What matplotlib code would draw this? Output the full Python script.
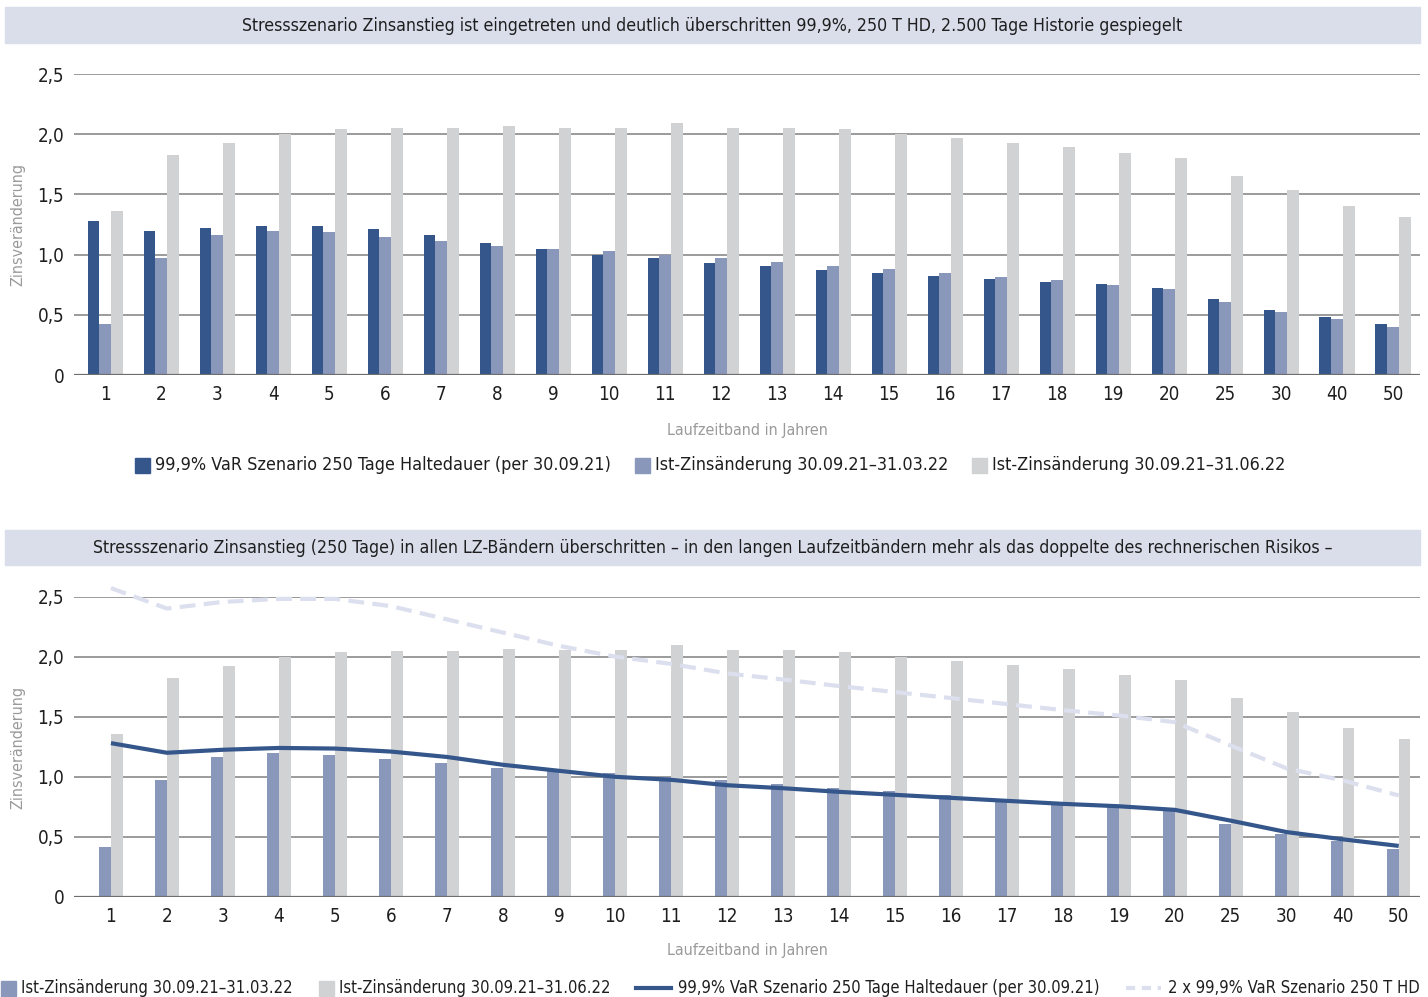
import matplotlib
matplotlib.use("Agg")
import matplotlib.pyplot as plt
import numpy as np
from matplotlib.patches import Rectangle
from matplotlib.lines import Line2D
from matplotlib.offsetbox import HPacker, DrawingArea, TextArea, AnchoredOffsetbox

plt.rcParams["font.family"] = ["DejaVu Sans"]
plt.rcParams["font.stretch"] = "condensed"

# data
bands = ["1", "2", "3", "4", "5", "6", "7", "8", "9", "10", "11", "12",
         "13", "14", "15", "16", "17", "18", "19", "20", "25", "30", "40", "50"]
var_999 = [1.28, 1.20, 1.225, 1.24, 1.235, 1.21, 1.165, 1.10, 1.05, 1.00, 0.975, 0.93,
           0.905, 0.875, 0.85, 0.825, 0.80, 0.775, 0.755, 0.725, 0.635, 0.54, 0.48, 0.425]
ist_0322 = [0.42, 0.97, 1.165, 1.20, 1.185, 1.15, 1.115, 1.075, 1.05, 1.03, 1.00, 0.975,
            0.94, 0.905, 0.88, 0.85, 0.815, 0.79, 0.75, 0.715, 0.605, 0.525, 0.465, 0.40]
ist_0622 = [1.36, 1.825, 1.925, 2.00, 2.04, 2.05, 2.05, 2.065, 2.055, 2.055, 2.095, 2.055,
            2.055, 2.04, 2.00, 1.965, 1.93, 1.895, 1.845, 1.805, 1.655, 1.54, 1.405, 1.315]
var_2x = [2.57, 2.40, 2.455, 2.48, 2.48, 2.42, 2.31, 2.20, 2.09, 2.00, 1.94, 1.86,
          1.81, 1.755, 1.705, 1.655, 1.605, 1.555, 1.51, 1.455, 1.26, 1.07, 0.97, 0.845]
yticks = [0, 0.5, 1.0, 1.5, 2.0, 2.5]
ytick_labels = ["0", "0,5", "1,0", "1,5", "2,0", "2,5"]

title_top = ("Stressszenario Zinsanstieg ist eingetreten und deutlich überschritten "
             "99,9%, 250 T HD, 2.500 Tage Historie gespiegelt")
title_bottom = ("Stressszenario Zinsanstieg (250 Tage) in allen LZ-Bändern überschritten – "
                "in den langen Laufzeitbändern mehr als das doppelte des rechnerischen Risikos –")
lbl_var = "99,9% VaR Szenario 250 Tage Haltedauer (per 30.09.21)"
lbl_0322 = "Ist-Zinsänderung 30.09.21–31.03.22"
lbl_0622 = "Ist-Zinsänderung 30.09.21–31.06.22"
lbl_2x = "2 x 99,9% VaR Szenario 250 T HD"

DARK = "#34568b"
LIGHT = "#8997bb"
GREY = "#d1d2d4"
DASH = "#dcdfee"
BAND = "#dadeeb"
TXT = "#1e1e1e"
AXT = "#9a9a9a"

W, H = 1428, 997


def fx(px):
    return px / W


def fy(py):
    return 1 - py / H


fig = plt.figure(figsize=(W / 100, H / 100), dpi=100)
x = np.arange(len(bands))
w = 0.21


def style(ax):
    ax.set_ylim(0, 2.5)
    ax.set_yticks(yticks)
    ax.set_yticklabels(ytick_labels)
    ax.set_xticks(x)
    ax.set_xticklabels(bands)
    ax.grid(axis="y", color="#808080", lw=1.1)
    ax.set_axisbelow(True)
    for s in ax.spines.values():
        s.set_visible(False)
    ax.axhline(0, color="#6e6e6e", lw=1.6, zorder=3)
    ax.tick_params(axis="both", length=0, labelsize=13.5, colors=TXT)
    ax.tick_params(axis="x", pad=7)
    ax.tick_params(axis="y", pad=7)


def legend_row(ax, items, xc, yc, fs, gap):
    boxes = []
    for kind, color, label in items:
        if kind == "patch":
            da = DrawingArea(10.8, 10.8)
            da.add_artist(Rectangle((0, 0), 10.8, 10.8, color=color))
            sep = 3.6
        else:
            da = DrawingArea(25, 10.8)
            ln = Line2D([0, 25], [5.4, 5.4], color=color, lw=3)
            if kind == "dash":
                ln.set_dashes((2.2, 1.6))
            da.add_artist(ln)
            sep = 5
        ta = TextArea(label, textprops=dict(fontsize=fs, color=TXT))
        boxes.append(HPacker(children=[da, ta], sep=sep, align="center", pad=0))
    row = HPacker(children=boxes, sep=gap, align="center", pad=0)
    ab = AnchoredOffsetbox(loc="center", child=row, bbox_to_anchor=(xc, yc),
                           bbox_transform=fig.transFigure, frameon=False,
                           pad=0, borderpad=0)
    ax.add_artist(ab)


# title bands
for top, bot in [(7, 43), (530, 565)]:
    fig.add_artist(Rectangle((fx(5), fy(bot)), fx(1420) - fx(5), (bot - top) / H,
                             transform=fig.transFigure, color=BAND, zorder=0))
fig.text(fx(712), fy(26), title_top, ha="center", va="center", fontsize=12.7, color=TXT)
fig.text(fx(713), fy(548), title_bottom, ha="center", va="center", fontsize=12.7, color=TXT)

# top chart
ax1 = fig.add_axes([fx(74), fy(375), fx(1420) - fx(74), (375 - 74) / H])
ax1.bar(x - w, var_999, w, color=DARK, zorder=2)
ax1.bar(x, ist_0322, w, color=LIGHT, zorder=2)
ax1.bar(x + w, ist_0622, w, color=GREY, zorder=2)
style(ax1)
ax1.set_xlim(-0.56, 23.48)
fig.text(fx(747), fy(430), "Laufzeitband in Jahren", ha="center", va="center",
         fontsize=11.5, color=AXT)
fig.text(fx(18), fy(225), "Zinsveränderung", ha="center", va="center",
         rotation=90, fontsize=11.5, color=AXT)
legend_row(ax1, [("patch", DARK, lbl_var), ("patch", LIGHT, lbl_0322),
                 ("patch", GREY, lbl_0622)], fx(710), fy(465), 12.9, 17)

# bottom chart
ax2 = fig.add_axes([fx(74), fy(897), fx(1420) - fx(74), (897 - 596.5) / H])
ax2.bar(x - w / 2, ist_0322, w, color=LIGHT, zorder=2)
ax2.bar(x + w / 2, ist_0622, w, color=GREY, zorder=2)
ax2.plot(x, var_999, color=DARK, lw=3, zorder=4, solid_capstyle="butt")
ax2.plot(x, var_2x, color=DASH, lw=3, dashes=(3.8, 2), zorder=4, clip_on=False)
style(ax2)
ax2.set_xlim(-0.66, 23.38)
fig.text(fx(747), fy(950), "Laufzeitband in Jahren", ha="center", va="center",
         fontsize=11.5, color=AXT)
fig.text(fx(18), fy(747), "Zinsveränderung", ha="center", va="center",
         rotation=90, fontsize=11.5, color=AXT)
legend_row(ax2, [("patch", LIGHT, lbl_0322), ("patch", GREY, lbl_0622),
                 ("line", DARK, lbl_var), ("dash", DASH, lbl_2x)], fx(710), fy(988), 11.9, 19)

fig.savefig("out.png", dpi=100)
